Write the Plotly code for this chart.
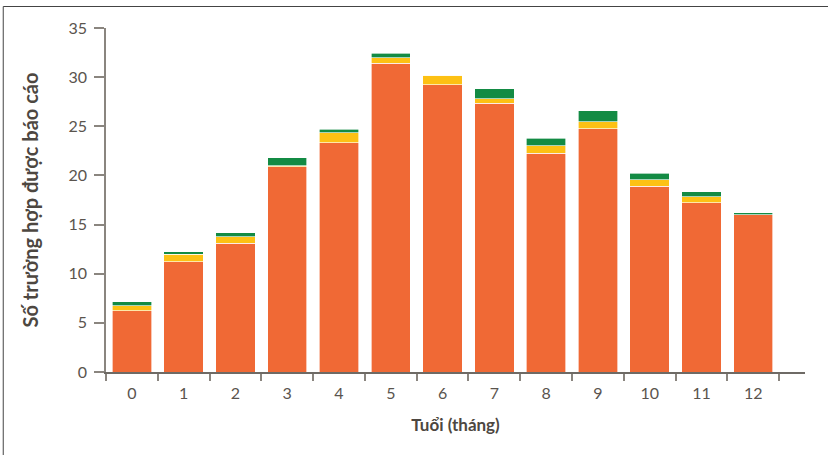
import plotly.graph_objects as go

categories = [str(i) for i in range(13)]
orange_vals = [6.25, 11.2, 13.1, 20.9, 23.35, 31.4, 29.25, 27.35, 22.25, 24.75, 18.9, 17.2, 16.0]
yellow_vals = [0.5, 0.8, 0.65, 0.1, 1.0, 0.55, 0.95, 0.45, 0.75, 0.73, 0.68, 0.65, 0.0]
green_vals = [0.42, 0.25, 0.4, 0.8, 0.37, 0.5, 0.0, 1.0, 0.8, 1.12, 0.66, 0.5, 0.2]
y_ticks = [0, 5, 10, 15, 20, 25, 30, 35]

font_family = "Lato, 'Open Sans', sans-serif"
axis_color = "#8a857f"
text_color = "#5a544e"

fig = go.Figure()
for vals, col in [(orange_vals, "#F06935"), (yellow_vals, "#FDC114"), (green_vals, "#138B44")]:
    fig.add_trace(go.Bar(
        x=categories, y=vals,
        marker=dict(color=col, line=dict(color="rgba(255,255,255,0.7)", width=0.9)),
        showlegend=False,
    ))

fig.update_layout(
    barmode="stack",
    bargap=0.24,
    width=828, height=455,
    margin=dict(l=106, r=23, t=28, b=83),
    plot_bgcolor="white", paper_bgcolor="white",
    font=dict(family=font_family, color=text_color),
    xaxis=dict(
        type="category", range=[-0.5, 13.0], automargin=False,
        tickson="boundaries", ticks="outside", ticklen=7, tickcolor=axis_color, tickwidth=1.5,
        showline=True, linecolor="#6e6a65", linewidth=1.5,
        showgrid=False, zeroline=False, ticklabelstandoff=6,
        tickfont=dict(size=16, color=text_color, family=font_family),
        title=dict(text="<b>Tuổi (tháng)</b>", font=dict(size=17, color="#4d4741", family=font_family), standoff=18),
    ),
    yaxis=dict(
        range=[0, 35], tickvals=y_ticks, automargin=False,
        ticks="outside", ticklen=10, tickcolor=axis_color, tickwidth=1.5,
        showline=True, linecolor=axis_color, linewidth=1.5,
        showgrid=False, zeroline=False, ticklabelstandoff=4,
        tickfont=dict(size=16, color=text_color, family=font_family),
        title=dict(text="<b>Số trường hợp được báo cáo</b>", font=dict(size=20, color="#4d4741", family=font_family), standoff=24),
    ),
    shapes=[dict(type="rect", xref="paper", yref="paper",
                 x0=-0.147, x1=1.1, y0=-0.4, y1=1.0625,
                 line=dict(color="#444", width=1), fillcolor="rgba(0,0,0,0)", layer="below")],
)

fig.write_html("out.html", config={"displayModeBar": False},
               post_script="document.body.style.margin='0px';")
